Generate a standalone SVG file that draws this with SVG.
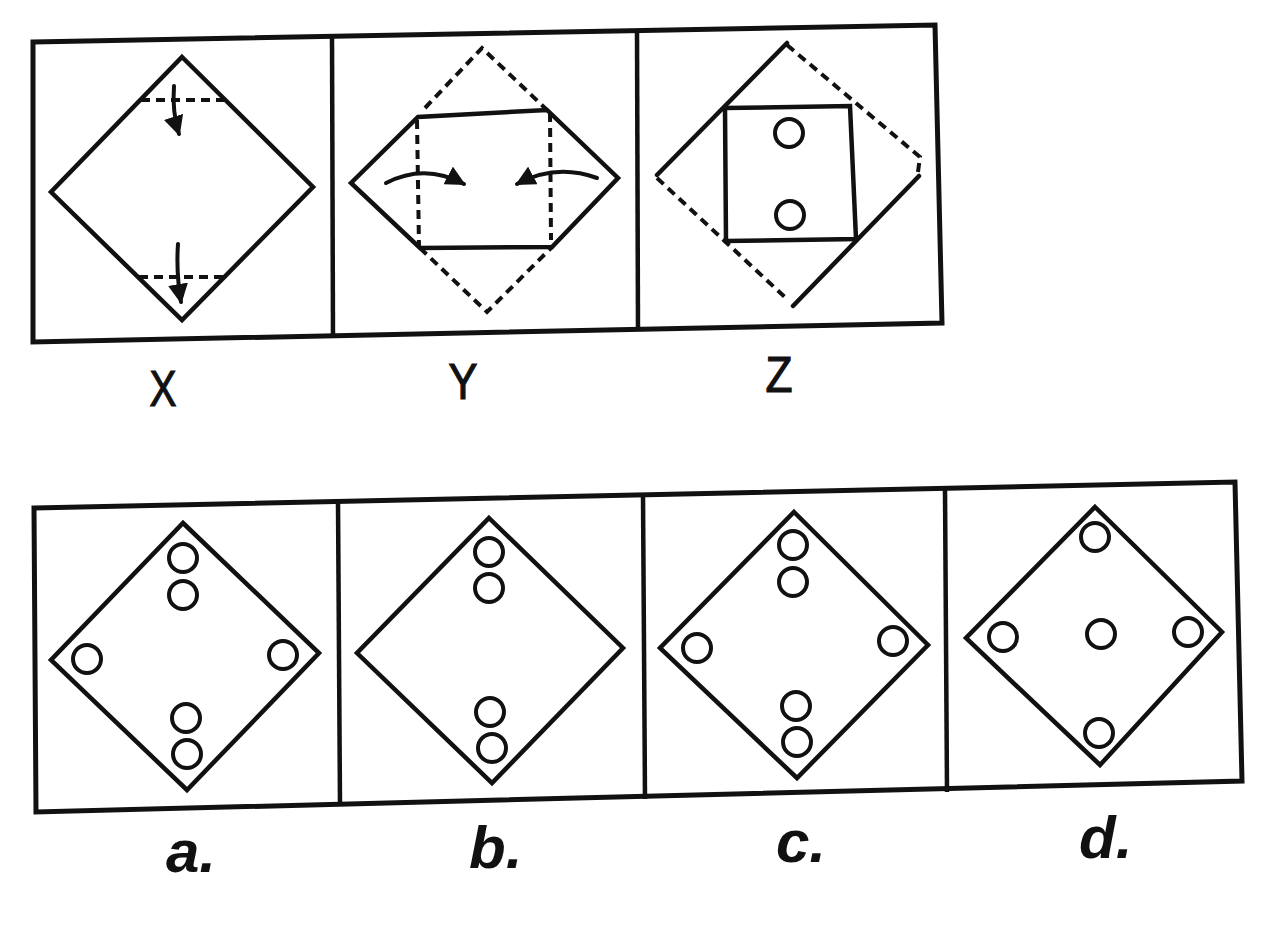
<svg xmlns="http://www.w3.org/2000/svg" width="1280" height="926" viewBox="0 0 1280 926">
<defs>
<style>
.frame{fill:none;stroke:#111;stroke-width:5;stroke-linejoin:miter}
.div{fill:none;stroke:#111;stroke-width:4.5}
.solid{fill:none;stroke:#111;stroke-width:4.5;stroke-linejoin:miter;stroke-linecap:round}
.dash{fill:none;stroke:#111;stroke-width:4;stroke-dasharray:9 6}
.hole{fill:none;stroke:#111;stroke-width:4}
.arr{fill:none;stroke:#111;stroke-width:4;stroke-linecap:round}
.lab{font-family:"Liberation Sans",Arial,sans-serif;font-size:50px;fill:#111;stroke:#111;stroke-width:1.2;text-anchor:middle}
.opt{font-family:"Liberation Sans",Arial,sans-serif;font-size:60px;font-weight:bold;font-style:italic;fill:#111}
</style>
<marker id="ah" viewBox="0 0 10 10" refX="9" refY="5" markerWidth="5" markerHeight="5" markerUnits="strokeWidth" orient="auto">
<path d="M0,0 L10,5 L0,10 Z" fill="#111"/>
</marker>
</defs>
<rect width="1280" height="926" fill="#ffffff"/>

<g id="top-frame">
<polygon class="frame" points="33,42 935,25 942,323 33,342"/>
<line class="div" x1="332" y1="37" x2="333" y2="337"/>
<line class="div" x1="637" y1="31" x2="638" y2="331"/>
</g>

<g id="panel-X">
<polygon class="solid" points="182,57 313,187 182,320 51,192"/>
<line class="dash" x1="141" y1="100" x2="224" y2="100"/>
<line class="dash" x1="139" y1="277" x2="224" y2="277"/>
<path class="arr" d="M174,86 Q172,112 179,134" marker-end="url(#ah)"/>
<path class="arr" d="M178,244 Q176,272 181,302" marker-end="url(#ah)"/>
</g>

<g id="panel-Y">
<polygon class="solid" points="351,183 418,117 547,110 618,178 552,247 420,248"/>
<polyline class="dash" points="425,108 482,48 547,110"/>
<polyline class="dash" points="420,248 487,312 552,247"/>
<line class="dash" x1="417" y1="120" x2="419" y2="247"/>
<line class="dash" x1="550" y1="113" x2="551" y2="240"/>
<path class="arr" d="M386,183 Q425,163 464,184" marker-end="url(#ah)"/>
<path class="arr" d="M597,178 Q556,163 517,184" marker-end="url(#ah)"/>
</g>

<g id="panel-Z">
<line class="solid" x1="657" y1="175" x2="787" y2="43"/>
<line class="solid" x1="919" y1="176" x2="793" y2="306"/>
<polyline class="dash" points="787,45 920,157 918,172"/>
<line class="dash" x1="657" y1="178" x2="788" y2="300"/>
<polygon class="solid" points="725,108 850,106 856,239 726,241"/>
<circle class="hole" cx="789" cy="133" r="14"/>
<circle class="hole" cx="790" cy="215" r="14"/>
</g>

<g id="labels-top">
<text class="lab" x="163" y="406" textLength="27" lengthAdjust="spacingAndGlyphs">X</text>
<text class="lab" x="463" y="399" textLength="29" lengthAdjust="spacingAndGlyphs">Y</text>
<text class="lab" x="779" y="392" textLength="27" lengthAdjust="spacingAndGlyphs">Z</text>
</g>

<g id="bottom-frame">
<polygon class="frame" points="34,508 1235,482 1242,781 36,812"/>
<line class="div" x1="338" y1="501" x2="340" y2="805"/>
<line class="div" x1="643" y1="495" x2="645" y2="799"/>
<line class="div" x1="945" y1="489" x2="947" y2="792"/>
</g>

<g id="option-a">
<polygon class="solid" points="183,523 319,653 187,790 51,660"/>
<circle class="hole" cx="183" cy="558" r="14"/>
<circle class="hole" cx="183" cy="595" r="14"/>
<circle class="hole" cx="87" cy="659" r="14"/>
<circle class="hole" cx="283" cy="655" r="14"/>
<circle class="hole" cx="186" cy="718" r="14"/>
<circle class="hole" cx="187" cy="754" r="14"/>
</g>

<g id="option-b">
<polygon class="solid" points="489,518 623,648 492,783 357,653"/>
<circle class="hole" cx="489" cy="552" r="14"/>
<circle class="hole" cx="489" cy="588" r="14"/>
<circle class="hole" cx="490" cy="712" r="14"/>
<circle class="hole" cx="492" cy="748" r="14"/>
</g>

<g id="option-c">
<polygon class="solid" points="794,512 928,645 797,778 660,648"/>
<circle class="hole" cx="793" cy="545" r="14"/>
<circle class="hole" cx="793" cy="582" r="14"/>
<circle class="hole" cx="697" cy="648" r="14"/>
<circle class="hole" cx="893" cy="641" r="14"/>
<circle class="hole" cx="796" cy="706" r="14"/>
<circle class="hole" cx="797" cy="742" r="14"/>
</g>

<g id="option-d">
<polygon class="solid" points="1095,507 1222,632 1100,765 966,638"/>
<circle class="hole" cx="1095" cy="537" r="14"/>
<circle class="hole" cx="1101" cy="634" r="14"/>
<circle class="hole" cx="1003" cy="637" r="14"/>
<circle class="hole" cx="1188" cy="632" r="14"/>
<circle class="hole" cx="1099" cy="733" r="14"/>
</g>

<g id="labels-bottom">
<text class="opt" x="166" y="872">a.</text>
<text class="opt" x="469" y="868">b.</text>
<text class="opt" x="776" y="862">c.</text>
<text class="opt" x="1079" y="858">d.</text>
</g>
</svg>
